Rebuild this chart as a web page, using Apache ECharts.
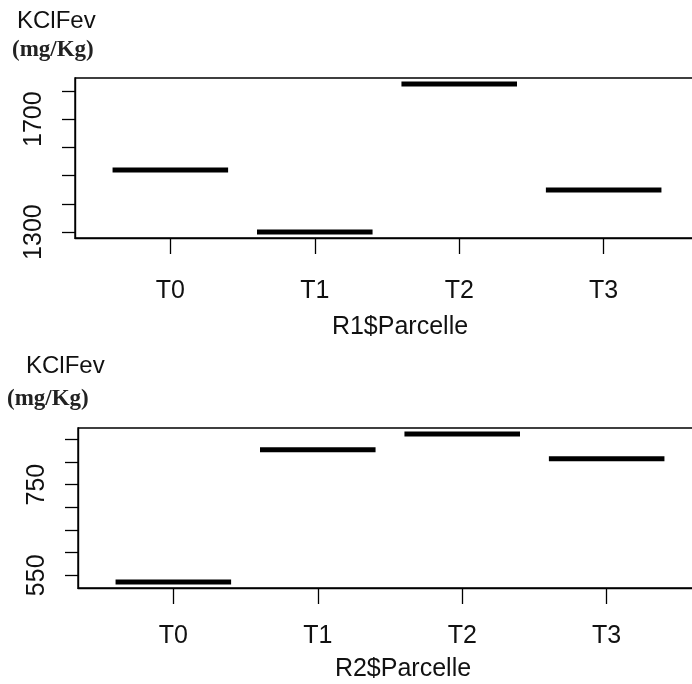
<!DOCTYPE html>
<html><head><meta charset="utf-8">
<script src="https://cdn.jsdelivr.net/npm/echarts@6/dist/echarts.min.js"></script>
<style>html,body{margin:0;padding:0;background:#fff;overflow:hidden}#c{width:720px;height:684px}</style>
</head><body><div id="c"></div>
<script>
const categories = ['T0', 'T1', 'T2', 'T3'];
const r1Values = [1520, 1300, 1825, 1449];
const r2Values = [535, 827, 862, 807];
const r1Ticks = [1300, 1400, 1500, 1600, 1700, 1800];
const r1Labels = [1300, 1700];
const r2Ticks = [550, 600, 650, 700, 750, 800, 850];
const r2Labels = [550, 750];
const yTitle = 'KClFev';
const yUnit = '(mg/Kg)';
const r1Name = 'R1$Parcelle';
const r2Name = 'R2$Parcelle';

const sans = "'Liberation Sans', Arial, sans-serif";
const fs = 25;
const ink = '#111';

function pad(vals) {
  const lo = Math.min(...vals), hi = Math.max(...vals), e = 0.04 * (hi - lo);
  return [lo - e, hi + e];
}
const n = categories.length;
const xExt = 0.04 * n;
const xMin = 0.5 - xExt, xMax = n + 0.5 + xExt;
const catPos = categories.map((c, i) => i + 1);
const r1Range = pad(r1Values), r2Range = pad(r2Values);

function xAxis(idx, name, margin, gap) {
  return {
    type: 'value', gridIndex: idx, min: xMin, max: xMax,
    splitLine: { show: false },
    axisLine: { show: true, lineStyle: { color: '#000', width: 1.4 } },
    axisTick: { show: true, length: 16, customValues: catPos, lineStyle: { color: '#000', width: 1.3 } },
    axisLabel: { customValues: catPos, margin: margin, color: ink, fontSize: fs, fontFamily: sans,
      formatter: v => categories[Math.round(v) - 1] },
    name: name, nameLocation: 'middle', nameGap: gap,
    nameTextStyle: { color: ink, fontSize: fs, fontFamily: sans, padding: [0, 0, 0, 26] }
  };
}
function yAxis(idx, range, ticks, labels) {
  return {
    type: 'value', gridIndex: idx, min: range[0], max: range[1],
    splitLine: { show: false },
    axisLine: { show: true, lineStyle: { color: '#000', width: 1.4 } },
    axisTick: { show: true, length: 13, customValues: ticks, lineStyle: { color: '#000', width: 1.3 } },
    axisLabel: { customValues: labels, rotate: 90, margin: 28, color: ink, fontSize: fs, fontFamily: sans,
      formatter: v => String(Math.round(v)) }
  };
}
function seg(idx, vals) {
  return {
    type: 'custom', xAxisIndex: idx, yAxisIndex: idx,
    data: vals.map((v, i) => [catPos[i], v]),
    encode: { x: 0, y: 1 },
    renderItem: (params, api) => {
      const x = api.value(0), y = api.value(1);
      const p1 = api.coord([x - 0.4, y]), p2 = api.coord([x + 0.4, y]);
      return { type: 'line', shape: { x1: p1[0], y1: p1[1], x2: p2[0], y2: p2[1] },
        style: { stroke: '#000', lineWidth: 5, lineCap: 'butt' } };
    }
  };
}
const sansTitle = { color: ink, fontSize: 24, fontFamily: sans, fontWeight: 'normal' };
const serifTitle = { color: '#222', fontSize: 23, fontFamily: "'Liberation Serif', 'Times New Roman', serif", fontWeight: 'bold' };
const chart = echarts.init(document.getElementById('c'), null, { renderer: 'canvas' });
chart.setOption({
  animation: false,
  backgroundColor: '#fff',
  title: [
    { text: yTitle, left: 17, top: 9, padding: 0, textStyle: sansTitle },
    { text: yUnit, left: 12, top: 39, padding: 0, textStyle: serifTitle },
    { text: yTitle, left: 26, top: 354, padding: 0, textStyle: sansTitle },
    { text: yUnit, left: 7, top: 388, padding: 0, textStyle: serifTitle }
  ],
  grid: [
    { left: 75, top: 78, width: 624, height: 160, show: true, borderColor: '#000', borderWidth: 1.4, containLabel: false },
    { left: 78, top: 428, width: 624, height: 160, show: true, borderColor: '#000', borderWidth: 1.4, containLabel: false }
  ],
  xAxis: [xAxis(0, r1Name, 41, 77), xAxis(1, r2Name, 36, 69)],
  yAxis: [yAxis(0, r1Range, r1Ticks, r1Labels), yAxis(1, r2Range, r2Ticks, r2Labels)],
  series: [seg(0, r1Values), seg(1, r2Values)]
});
</script></body></html>
